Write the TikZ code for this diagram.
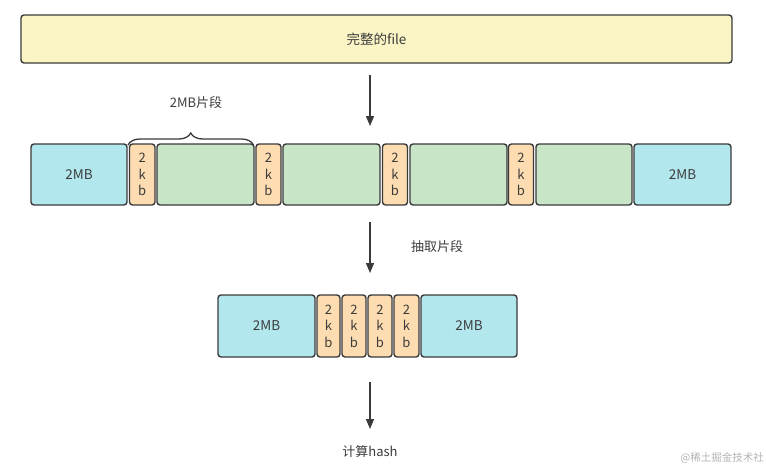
\documentclass[tikz,border=0pt]{standalone}
\usepackage{fontspec}
\setmainfont{Noto Sans CJK SC}
\usetikzlibrary{arrows.meta,decorations.pathreplacing}
\definecolor{lineC}{HTML}{3A3A3A}
\definecolor{textC}{HTML}{3C3C3C}
\definecolor{yellowF}{HTML}{FBF5C6}
\definecolor{blueF}{HTML}{B3E7EE}
\definecolor{orangeF}{HTML}{FCDCB0}
\definecolor{greenF}{HTML}{C9E5C8}
\tikzset{
  blk/.style={draw=lineC, line width=1.4pt, rounded corners=3pt, inner sep=0pt,
    text=textC, font=\fontsize{13.5}{16}\selectfont, align=center},
  kb/.style={blk, fill=orangeF, font=\fontsize{13}{16.5}\selectfont},
  arr/.style={draw=lineC, line width=1.3pt, -{Triangle[length=10pt,width=8pt]}},
  lbl/.style={text=textC, font=\fontsize{13}{16}\selectfont, inner sep=0pt},
}
\newcommand{\blockbox}[7]{% name, style, x1, x2, y1, y2, text
  \node[#2, minimum width={#4pt-#3pt}, minimum height={#6pt-#5pt}]
    (#1) at ({(#3+#4)/2*1pt}, {-(#5+#6)/2*1pt}) {#7};}
\begin{document}
\begin{tikzpicture}[x=1pt,y=-1pt]
\useasboundingbox (0,0) rectangle (766,464);
% top bar
\blockbox{bar}{blk, fill=yellowF}{21}{732}{15}{63}{完整的file}
% row 2
\def\ra{144}\def\rb{205}
\blockbox{b1}{blk, fill=blueF}{31}{127}{\ra}{\rb}{2MB}
\blockbox{k1}{kb}{129.5}{155}{\ra}{\rb}{2\\k\\b}
\blockbox{g1}{blk, fill=greenF}{157}{254}{\ra}{\rb}{}
\blockbox{k2}{kb}{256}{281}{\ra}{\rb}{2\\k\\b}
\blockbox{g2}{blk, fill=greenF}{283}{380}{\ra}{\rb}{}
\blockbox{k3}{kb}{382.5}{407.5}{\ra}{\rb}{2\\k\\b}
\blockbox{g3}{blk, fill=greenF}{410}{507}{\ra}{\rb}{}
\blockbox{k4}{kb}{508.5}{533.5}{\ra}{\rb}{2\\k\\b}
\blockbox{g4}{blk, fill=greenF}{536}{632}{\ra}{\rb}{}
\blockbox{b2}{blk, fill=blueF}{634}{731}{\ra}{\rb}{2MB}
% brace and label
\coordinate (brL) at (128,145);
\coordinate (brR) at (253.5,145);
\draw[draw=lineC, line width=1.3pt, decorate,
  decoration={brace, amplitude=12pt, raise=0pt}] (brL) -- (brR);
\node[lbl] (seg) at (196,103) {2MB片段};
% arrow 1
\coordinate (a1s) at (370,75);
\coordinate (a1e) at (370,126);
\draw[arr] (a1s) -- (a1e);
% arrow 2
\coordinate (a2s) at (370,222);
\coordinate (a2e) at (370,273);
\draw[arr] (a2s) -- (a2e);
\node[lbl] (extract) at (437,247) {抽取片段};
% row 3
\def\sa{295}\def\sb{357}
\blockbox{c1}{blk, fill=blueF}{218}{315}{\sa}{\sb}{2MB}
\blockbox{m1}{kb}{317}{340}{\sa}{\sb}{2\\k\\b}
\blockbox{m2}{kb}{342}{366}{\sa}{\sb}{2\\k\\b}
\blockbox{m3}{kb}{368}{392}{\sa}{\sb}{2\\k\\b}
\blockbox{m4}{kb}{394}{419}{\sa}{\sb}{2\\k\\b}
\blockbox{c2}{blk, fill=blueF}{421}{517}{\sa}{\sb}{2MB}
% arrow 3
\coordinate (a3s) at (370,382);
\coordinate (a3e) at (370,429);
\draw[arr] (a3s) -- (a3e);
\node[lbl] (hash) at (370,452) {计算hash};
% watermark
\node[anchor=east, inner sep=0pt, text=black!30, font=\fontsize{10.5}{12}\selectfont] (wm) at (764,458) {@稀土掘金技术社};
\end{tikzpicture}
\end{document}
